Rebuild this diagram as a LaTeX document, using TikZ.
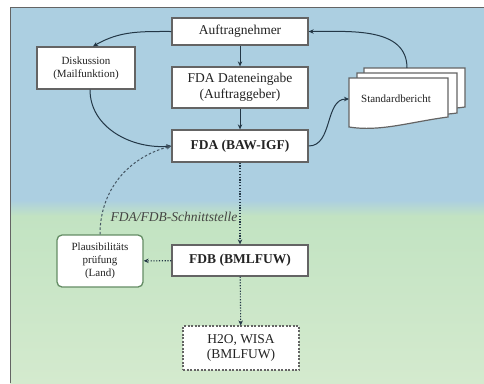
\documentclass[tikz,border=0pt]{standalone}
\usepackage{fontspec}
\setmainfont{Liberation Serif}
\usetikzlibrary{arrows.meta}
\definecolor{bgblue}{RGB}{172,207,225}
\definecolor{bggreenA}{RGB}{194,227,194}
\definecolor{bggreenB}{RGB}{212,234,206}
\definecolor{boxline}{RGB}{100,100,100}
\definecolor{conn}{RGB}{35,55,70}
\definecolor{txt}{RGB}{35,35,35}
\definecolor{plausline}{RGB}{100,140,100}
\tikzset{
  box/.style={draw=boxline, line width=1.3pt, fill=white, text=txt, align=center, inner sep=2pt},
  mainfont/.style={font=\fontsize{13.5}{15.5}\selectfont},
  smallfont/.style={font=\fontsize{11}{13}\selectfont},
  conarrow/.style={draw=conn, line width=1pt, -{Stealth[length=5pt,width=4.5pt]}},
  dotline/.style={draw=conn, line width=1.1pt, dash pattern=on 1.2pt off 1.6pt, -{Stealth[length=5pt,width=4.5pt]}},
  dashline/.style={draw=conn!85, line width=1pt, dash pattern=on 2.5pt off 2pt, -{Stealth[length=5pt,width=4.5pt]}},
  docshape/.style={draw=boxline, line width=1.2pt, fill=white},
}
\begin{document}
\begin{tikzpicture}[x=1pt,y=-1pt]
\useasboundingbox (0,0) rectangle (484,383);
\fill[white] (0,0) rectangle (484,383);
% background
\fill[bgblue] (10,7) rectangle (484,200);
\shade[top color=bgblue, bottom color=bggreenA] (10,200) rectangle (484,216);
\shade[top color=bggreenA, bottom color=bggreenB] (10,216) rectangle (484,383);
\draw[boxline, line width=1pt] (10,383) -- (10,7) -- (484,7);

% nodes
\node[box, mainfont, minimum width=136pt, minimum height=27pt] (aut) at (240,31.5) {Auftragnehmer};
\node[box, smallfont, minimum width=98pt, minimum height=42pt] (dis) at (86,68) {Diskussion\\(Mailfunktion)};
\node[box, mainfont, minimum width=136pt, minimum height=41pt] (dat) at (240,87.5) {FDA Dateneingabe\\(Auftraggeber)};
\node[box, minimum width=136pt, minimum height=32pt, font=\fontsize{13.5}{15.5}\selectfont\bfseries] (fda) at (240,146) {FDA (BAW-IGF)};
\node[box, smallfont, draw=plausline, rounded corners=5pt, minimum width=86pt, minimum height=52pt] (plaus) at (100,261) {Plausibilitäts\\prüfung\\(Land)};
\node[box, minimum width=136pt, minimum height=31pt, font=\fontsize{13.5}{15.5}\selectfont\bfseries] (fdb) at (240,260.5) {FDB (BMLFUW)};
\node[box, mainfont, line width=1.1pt, dash pattern=on 2pt off 1.5pt, minimum width=116pt, minimum height=44pt] (h2o) at (241,348) {H2O, WISA\\(BMLFUW)};

% document stack
\draw[docshape] (364,68) -- (465,68) -- (465,107) .. controls (435,112) and (400,100) .. (364,116) -- cycle;
\draw[docshape] (357,73) -- (457,73) -- (457,113) .. controls (427,118) and (392,106) .. (357,121) -- cycle;
\draw[docshape] (349,78) -- (448,78) -- (448,117) .. controls (410,122) and (380,132) .. (349,127) -- cycle;
\node[smallfont, text=txt] (std) at (396,99) {Standardbericht};
\coordinate (docleft) at (349,99);
\coordinate (doctop) at (407,68);

% label
\node[text=txt!85, font=\fontsize{13.5}{15.5}\selectfont\itshape] (schn) at (174,217) {FDA/FDB-Schnittstelle};

% connectors
\path[conarrow] (aut.west) to[out=180,in=30] ([xshift=7pt]dis.north);
\path[conarrow] (aut) -- (dat);
\path[conarrow] (dat) -- (fda);
\path[conarrow] ([xshift=4pt]dis.south) to[out=-90,in=185] (fda.west);
\path[conarrow] (fda.east) to[out=0,in=180] (docleft);
\path[conarrow] (doctop) to[out=90,in=0] (aut.east);
\path[dashline] (plaus.north) to[out=90,in=195] (fda.west);
\path[dotline] (fda) -- (fdb);
\path[dotline] (fdb) -- (plaus);
\path[dotline] (fdb) -- (h2o);
\end{tikzpicture}
\end{document}
